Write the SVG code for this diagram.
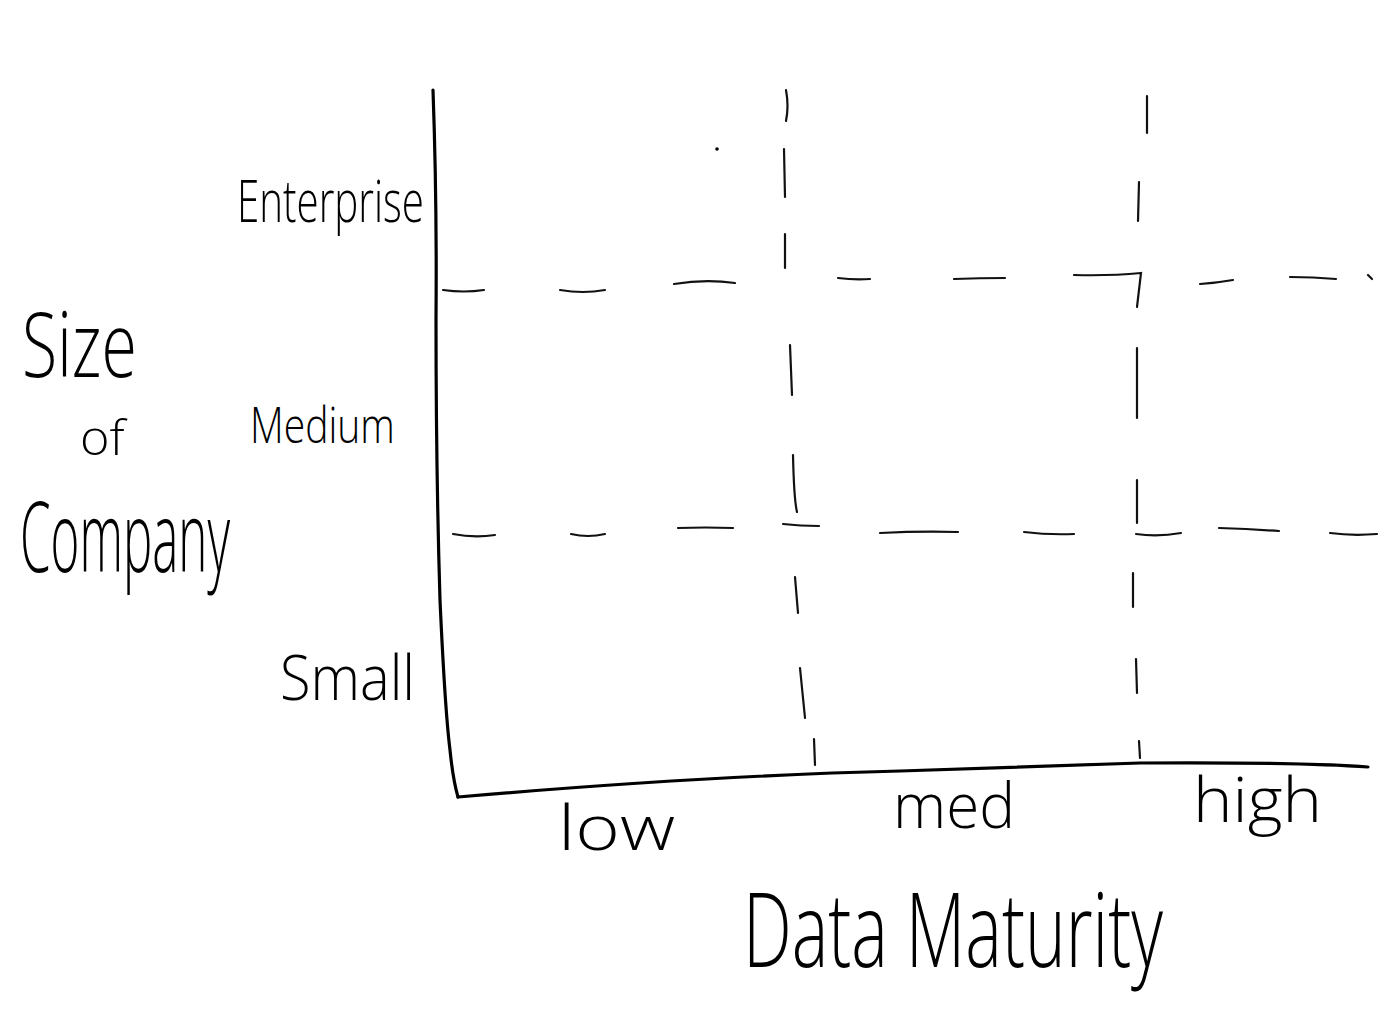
<svg xmlns="http://www.w3.org/2000/svg" width="1393" height="1015" viewBox="0 0 1393 1015">
<style>
.ax{fill:none;stroke:#000;stroke-width:3.2;stroke-linecap:round;stroke-linejoin:round}
.d{fill:none;stroke:#111;stroke-width:2.2;stroke-linecap:round}
.t{font-family:"Open Sans","Liberation Sans",sans-serif;font-weight:300;fill:#000}
</style>
<rect width="1393" height="1015" fill="#fff"/>
<g id="axes">
<path class="ax" d="M433,90 Q437,200 436,320 Q436,470 440,600 Q445,710 450,750 Q453,780 458,797"/>
<path class="ax" d="M458,797 Q700,776 900,771 Q1040,766 1140,763 Q1300,762 1368,767"/>
</g>
<g id="grid">
<path class="d" d="M443,290 Q464,293 484,290"/>
<path class="d" d="M560,290 Q583,294 605,290"/>
<path class="d" d="M674,284 Q705,279 735,283"/>
<path class="d" d="M838,278 Q854,280 870,279"/>
<path class="d" d="M954,279 Q980,278 1005,278"/>
<path class="d" d="M1074,275 Q1110,276 1141,273 L1137,307"/>
<path class="d" d="M1200,284 Q1216,283 1233,280"/>
<path class="d" d="M1290,277 Q1313,277 1336,279"/>
<path class="d" d="M1368,275 L1372,279"/>
<path class="d" d="M453,534 Q474,538 495,535"/>
<path class="d" d="M571,534 Q588,538 605,534"/>
<path class="d" d="M678,528 Q705,527 733,528"/>
<path class="d" d="M783,524 Q800,526 819,526"/>
<path class="d" d="M880,533 Q920,531 958,532"/>
<path class="d" d="M1024,532 Q1048,535 1074,534"/>
<path class="d" d="M1136,534 Q1158,537 1181,533"/>
<path class="d" d="M1219,528 Q1250,529 1279,531"/>
<path class="d" d="M1330,533 Q1352,536 1377,534"/>
<path class="d" d="M786,90 Q789,106 786,121"/>
<path class="d" d="M784,149 L785,197"/>
<path class="d" d="M785,234 L785,268"/>
<path class="d" d="M790,345 L792,395"/>
<path class="d" d="M793,455 Q794,500 797,512"/>
<path class="d" d="M795,577 L798,613"/>
<path class="d" d="M800,668 L805,718"/>
<path class="d" d="M814,739 L815,765"/>
<path class="d" d="M1147,96 L1147,133"/>
<path class="d" d="M1139,182 L1138,221"/>
<path class="d" d="M1137,348 L1137,418"/>
<path class="d" d="M1137,480 L1137,523"/>
<path class="d" d="M1133,573 L1133,607"/>
<path class="d" d="M1136,659 L1137,693"/>
<path class="d" d="M1139,741 L1140,758"/>
<circle cx="717" cy="149" r="1.8" fill="#000"/>
</g>
<g id="y-labels">
<text class="t" transform="translate(237,222) scale(0.68,1)" font-size="58" textLength="275" lengthAdjust="spacingAndGlyphs">Enterprise</text>
<text class="t" transform="translate(250,443) scale(0.75,1)" font-size="50" textLength="193" lengthAdjust="spacingAndGlyphs">Medium</text>
<text class="t" x="280" y="700" font-size="62" textLength="135" lengthAdjust="spacingAndGlyphs">Small</text>
</g>
<g id="y-title">
<text class="t" transform="translate(22,377) scale(0.7,1)" font-size="90" textLength="164" lengthAdjust="spacingAndGlyphs">Size</text>
<text class="t" transform="translate(80,455) scale(0.95,1)" font-size="48" textLength="47" lengthAdjust="spacingAndGlyphs">of</text>
<text class="t" transform="translate(20,572) scale(0.5,1)" font-size="98" textLength="420" lengthAdjust="spacingAndGlyphs">Company</text>
</g>
<g id="x-labels">
<text class="t" x="558" y="850" font-size="62" textLength="117" lengthAdjust="spacingAndGlyphs">low</text>
<text class="t" x="893" y="828" font-size="62" textLength="122" lengthAdjust="spacingAndGlyphs">med</text>
<text class="t" x="1193" y="822" font-size="62" textLength="129" lengthAdjust="spacingAndGlyphs">high</text>
</g>
<g id="x-title">
<text class="t" transform="translate(743,967) scale(0.65,1)" font-size="104" textLength="646" lengthAdjust="spacingAndGlyphs">Data Maturity</text>
</g>
</svg>
